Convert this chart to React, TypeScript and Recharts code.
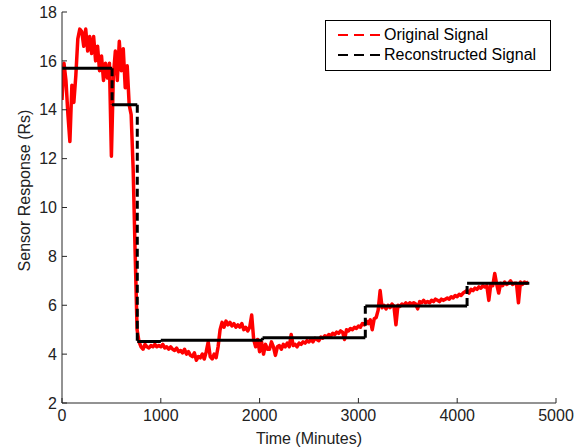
import React from "react";
import { LineChart, Line, XAxis, YAxis, Legend, Label } from "recharts";

// minutes between two samples of the original sensor trace
const SAMPLE_STEP = 20;

// original signal, one value every SAMPLE_STEP minutes starting at t = 0
const originalValues: number[] = [
  14.4, 15.9, 15.2, 13.8, 12.7,
  15.0, 14.3, 15.4, 16.9, 17.3,
  17.2, 16.6, 17.3, 16.4, 17.0,
  16.3, 17.0, 16.0, 16.6, 15.6,
  16.2, 15.2, 15.9, 15.3, 15.9,
  12.1, 15.4, 16.4, 15.2, 16.8,
  15.6, 16.5, 14.9, 15.8, 14.2,
  13.8, 11.6, 8.2, 5.0, 4.5,
  4.3, 4.2, 4.4, 4.3, 4.25,
  4.35, 4.3, 4.4, 4.3, 4.35,
  4.3, 4.4, 4.25, 4.3, 4.2,
  4.3, 4.2, 4.15, 4.25, 4.1,
  4.15, 4.05, 4.2, 4.0, 4.1,
  3.95, 3.9, 4.05, 3.75, 3.9,
  3.85, 4.0, 3.8, 4.1, 4.5,
  3.9, 3.8, 4.0, 3.85, 4.3,
  5.0, 5.3, 5.1, 5.35, 5.2,
  5.3, 5.15, 5.25, 5.1, 5.2,
  5.1, 5.25, 5.0, 5.1, 4.95,
  5.1, 5.6, 4.6, 4.3, 4.6,
  4.1, 4.5, 4.0, 4.4, 4.2,
  4.2, 4.5, 4.3, 3.95, 4.3,
  4.35, 4.2, 4.4, 4.3, 4.45,
  4.3, 4.8, 4.35, 4.4, 4.3,
  4.45, 4.4, 4.5, 4.45, 4.55,
  4.5, 4.6, 4.5, 4.65, 4.6,
  4.55, 4.7, 4.65, 4.75, 4.7,
  4.8, 4.75, 4.85, 4.8, 4.9,
  4.85, 4.95, 4.9, 4.6, 5.0,
  4.95, 5.05, 5.0, 5.1, 5.05,
  5.15, 5.1, 5.25, 5.2, 5.35,
  5.25, 5.4, 5.0, 5.45, 5.5,
  5.8, 6.6, 5.9, 6.0, 5.85,
  6.0, 5.9, 6.05, 5.95, 5.2,
  6.0, 5.95, 6.05, 6.0, 6.1,
  6.0, 6.1, 6.05, 6.1, 6.05,
  5.85, 6.15, 6.1, 6.2, 6.1,
  6.15, 6.1, 6.2, 6.15, 6.25,
  6.2, 6.15, 6.25, 6.2, 6.25,
  6.3, 6.25, 6.35, 6.3, 6.4,
  6.35, 6.45, 6.4, 6.5, 6.55,
  6.6, 6.5, 6.65, 6.6, 6.7,
  6.65, 6.75, 6.7, 6.8, 6.75,
  6.8, 6.2, 6.85, 6.8, 7.3,
  6.85, 6.5, 6.9, 6.8, 6.95,
  6.85, 6.9, 7.0, 6.85, 6.9,
  6.9, 6.1, 6.95, 6.85, 6.95,
  6.9, 6.95
];

// reconstructed (piecewise constant) signal
const levelStart = [0, 507, 762, 1000, 2030, 3070, 4100];
const levelEnd = [507, 762, 1000, 2030, 3070, 4100, 4730];
const levelValue = [15.7, 14.2, 4.52, 4.57, 4.67, 5.97, 6.9];

const xTicks = [0, 1000, 2000, 3000, 4000, 5000];
const yTicks = [2, 4, 6, 8, 10, 12, 14, 16, 18];

const legendNames = ["Original Signal", "Reconstructed Signal"];
const legendColors = ["#ff0000", "#000000"];

type Pt = { t: number; v: number | null };

const originalData: Pt[] = originalValues.map((v, i) => ({ t: i * SAMPLE_STEP, v }));

const reconFlat: Pt[] = [];
levelStart.forEach((s, i) => {
  reconFlat.push({ t: s, v: levelValue[i] });
  reconFlat.push({ t: levelEnd[i], v: levelValue[i] });
  reconFlat.push({ t: levelEnd[i], v: null });
});

const reconJumps: Pt[] = [];
levelStart.forEach((s, i) => {
  if (i === 0) return;
  reconJumps.push({ t: s, v: levelValue[i - 1] });
  reconJumps.push({ t: s, v: levelValue[i] });
  reconJumps.push({ t: s, v: null });
});

const FONT = '"Liberation Sans", Arial, Helvetica, sans-serif';
const AXIS = "#262626";

const renderLegend = () => (
  <div
    style={{
      width: 224,
      height: 45,
      paddingTop: 4,
      border: "1px solid #000",
      background: "#fff",
      fontFamily: FONT,
      fontSize: 16,
      color: "#000"
    }}
  >
    {legendNames.map((name, i) => (
      <div key={name} style={{ display: "flex", alignItems: "center", height: 20 }}>
        <svg width={42} height={4} style={{ marginLeft: 12, marginRight: 4 }}>
          <line x1={0} y1={2} x2={42} y2={2} stroke={legendColors[i]} strokeWidth={2} strokeDasharray="10 6" />
        </svg>
        <span style={{ lineHeight: "20px" }}>{name}</span>
      </div>
    ))}
  </div>
);

export default function App() {
  return (
    <div
      style={{
        position: "absolute",
        left: 0,
        top: 0,
        width: 574,
        height: 447,
        background: "#fff",
        fontFamily: FONT
      }}
    >
      <LineChart width={574} height={447} margin={{ top: 12, right: 18, bottom: 0, left: 0 }}>
        <XAxis
          xAxisId="bottom"
          dataKey="t"
          type="number"
          domain={[0, 5000]}
          ticks={xTicks}
          interval={0}
          height={44}
          tickSize={-5}
          tickMargin={12}
          stroke={AXIS}
          tick={{ fontSize: 16, fill: "#222", fontFamily: FONT }}
          allowDataOverflow
        >
          <Label
            value="Time (Minutes)"
            position="insideBottom"
            offset={3}
            style={{ fontSize: 16, fill: "#222", fontFamily: FONT }}
          />
        </XAxis>
        <XAxis
          xAxisId="top"
          orientation="top"
          type="number"
          domain={[0, 5000]}
          ticks={xTicks}
          interval={0}
          height={0}
          tickSize={-5}
          tick={false}
          stroke={AXIS}
        />
        <YAxis
          yAxisId="left"
          type="number"
          domain={[2, 18]}
          ticks={yTicks}
          interval={0}
          width={62}
          tickSize={-5}
          tickMargin={10}
          stroke={AXIS}
          tick={{ fontSize: 16, fill: "#222", fontFamily: FONT }}
          allowDataOverflow
        >
          <Label
            content={(p: any) => {
              const vb = p.viewBox;
              const cx = vb.x + 24;
              const cy = vb.y + vb.height / 2 - 17;
              return (
                <text
                  x={cx}
                  y={cy}
                  transform={`rotate(-90, ${cx}, ${cy})`}
                  textAnchor="middle"
                  dominantBaseline="central"
                  style={{ fontSize: 16, fill: "#222", fontFamily: FONT }}
                >
                  Sensor Response (Rs)
                </text>
              );
            }}
          />
        </YAxis>
        <YAxis
          yAxisId="right"
          orientation="right"
          type="number"
          domain={[2, 18]}
          ticks={yTicks}
          interval={0}
          width={0}
          tickSize={-5}
          tick={false}
          stroke={AXIS}
        />
        <Legend
          content={renderLegend}
          layout="horizontal"
          verticalAlign="middle"
          align="center"
          wrapperStyle={{ left: 325, top: 20, width: 226, height: 51 }}
        />
        <Line
          xAxisId="bottom"
          yAxisId="left"
          data={originalData}
          dataKey="v"
          name="Original Signal"
          type="linear"
          stroke="#ff0000"
          strokeWidth={3.5}
          strokeLinejoin="round"
          dot={false}
          activeDot={false}
          isAnimationActive={false}
        />
        <Line
          xAxisId="bottom"
          yAxisId="left"
          data={reconFlat}
          dataKey="v"
          name="Reconstructed Signal"
          type="linear"
          stroke="#000"
          strokeWidth={3}
          dot={false}
          activeDot={false}
          connectNulls={false}
          isAnimationActive={false}
        />
        <Line
          xAxisId="bottom"
          yAxisId="left"
          data={reconJumps}
          dataKey="v"
          name="jumps"
          legendType="none"
          type="linear"
          stroke="#000"
          strokeWidth={3}
          strokeDasharray="8 4"
          dot={false}
          activeDot={false}
          connectNulls={false}
          isAnimationActive={false}
        />
      </LineChart>
    </div>
  );
}
